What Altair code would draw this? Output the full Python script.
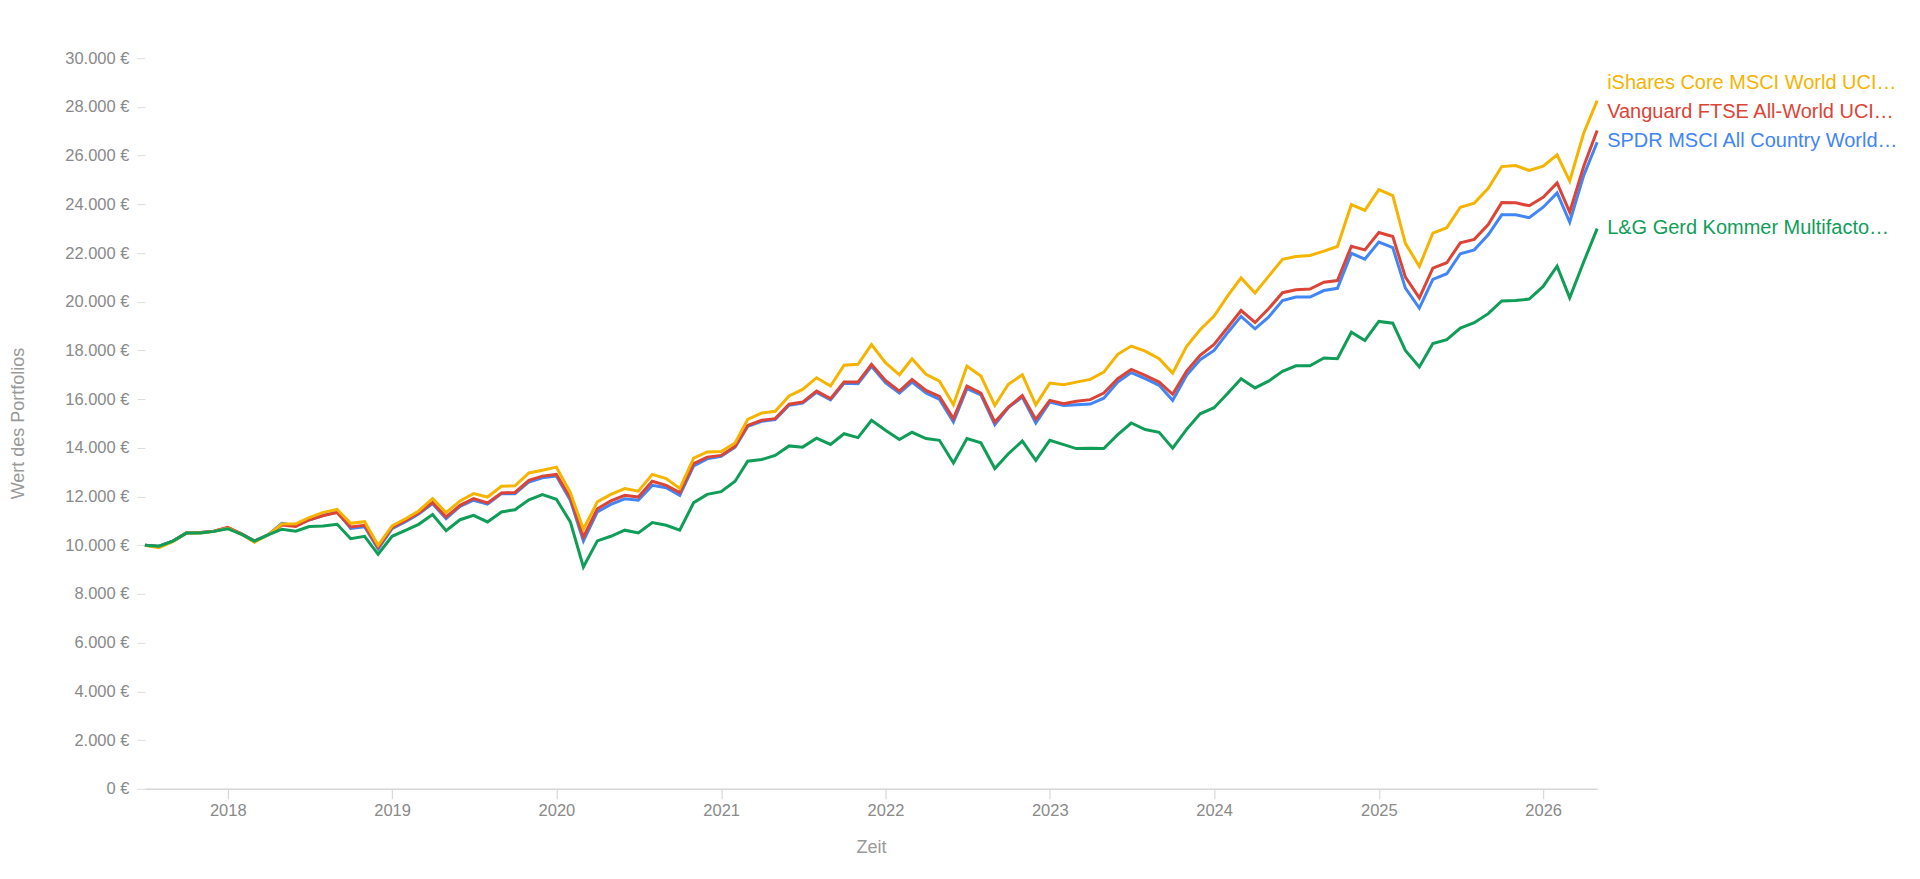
import altair as alt
import pandas as pd

# ---------------- data ----------------
START_DATE = "2017-07-01"
N_MONTHS = 107

SERIES = [
    "SPDR MSCI All Country World Investable Market UCITS ETF",
    "Vanguard FTSE All-World UCITS ETF",
    "iShares Core MSCI World UCITS ETF",
    "L&G Gerd Kommer Multifactor Equity UCITS ETF",
]
LABELS = [
    "SPDR MSCI All Country World…",
    "Vanguard FTSE All-World UCI…",
    "iShares Core MSCI World UCI…",
    "L&G Gerd Kommer Multifacto…",
]
COLORS = ["#4285F4", "#DB4437", "#F4B400", "#0F9D58"]

spdr = [10000, 9960, 10170, 10500, 10520, 10580, 10720, 10460, 10180, 10440,
        10900, 10800, 11040, 11220, 11370, 10690, 10760, 9850, 10680, 10980,
        11280, 11710, 11090, 11600, 11850, 11690, 12120, 12120, 12600, 12770,
        12840, 11850, 10180, 11370, 11680, 11910, 11850, 12460, 12360, 12050,
        13260, 13550, 13650, 14030, 14880, 15090, 15160, 15750, 15840, 16280,
        15970, 16650, 16630, 17350, 16680, 16250, 16700, 16250, 15990, 15060,
        16430, 16180, 14950, 15650, 16090, 15020, 15880, 15740, 15770, 15800,
        16040, 16700, 17090, 16840, 16570, 15950, 16980, 17620, 18000, 18750,
        19400, 18890, 19370, 20050, 20190, 20190, 20460, 20550, 21990, 21750,
        22450, 22220, 20560, 19740, 20920, 21150, 21970, 22130, 22750, 23570,
        23570, 23450, 23880, 24470, 23270, 25180, 26550]

vanguard = [10000, 9950, 10170, 10500, 10520, 10580, 10740, 10470, 10170, 10430,
            10830, 10770, 11050, 11220, 11340, 10750, 10820, 9910, 10730, 11030,
            11330, 11760, 11160, 11640, 11920, 11740, 12150, 12170, 12670, 12840,
            12910, 11960, 10340, 11500, 11820, 12050, 11980, 12630, 12460, 12160,
            13350, 13620, 13690, 14070, 14920, 15130, 15200, 15790, 15880, 16330,
            16020, 16700, 16700, 17430, 16770, 16330, 16810, 16360, 16110, 15200,
            16540, 16250, 15060, 15670, 16150, 15170, 15950, 15810, 15910, 15980,
            16250, 16840, 17220, 16980, 16700, 16200, 17150, 17800, 18250, 18960,
            19640, 19150, 19710, 20370, 20490, 20520, 20800, 20870, 22280, 22130,
            22840, 22680, 21010, 20160, 21380, 21600, 22420, 22560, 23170, 24070,
            24060, 23940, 24290, 24880, 23680, 25550, 27030]

ishares = [10000, 9900, 10150, 10500, 10500, 10570, 10700, 10450, 10120, 10430,
           10870, 10880, 11140, 11350, 11470, 10900, 10970, 10000, 10800, 11100,
           11410, 11920, 11340, 11820, 12120, 11980, 12420, 12440, 12970, 13080,
           13210, 12160, 10660, 11780, 12090, 12330, 12220, 12910, 12740, 12330,
           13580, 13830, 13850, 14200, 15170, 15430, 15500, 16130, 16400, 16880,
           16540, 17390, 17430, 18240, 17500, 17000, 17660, 17020, 16740, 15770,
           17360, 16950, 15740, 16610, 17000, 15770, 16660, 16590, 16700, 16810,
           17110, 17840, 18180, 17970, 17660, 17070, 18170, 18850, 19410, 20260,
           20980, 20360, 21040, 21740, 21860, 21900, 22080, 22270, 23990, 23750,
           24600, 24360, 22400, 21450, 22820, 23040, 23880, 24050, 24660, 25550,
           25590, 25390, 25570, 26030, 24950, 26920, 28260]

lg = [10000, 9960, 10170, 10500, 10500, 10570, 10680, 10450, 10170, 10430,
      10660, 10580, 10770, 10790, 10860, 10270, 10370, 9630, 10370, 10620,
      10860, 11260, 10600, 11050, 11230, 10960, 11370, 11460, 11870, 12080,
      11890, 10960, 9110, 10180, 10370, 10620, 10510, 10930, 10820, 10620,
      11750, 12090, 12200, 12630, 13450, 13520, 13690, 14080, 14030, 14400,
      14140, 14580, 14420, 15130, 14720, 14340, 14640, 14380, 14310, 13380,
      14380, 14210, 13150, 13760, 14280, 13490, 14310, 14130, 13970, 13980,
      13970, 14540, 15020, 14750, 14640, 13990, 14760, 15400, 15650, 16250,
      16840, 16460, 16740, 17140, 17370, 17370, 17690, 17660, 18750, 18410,
      19190, 19120, 18000, 17320, 18280, 18440, 18920, 19140, 19510, 20030,
      20050, 20110, 20630, 21460, 20160, 21630, 23000]

Y_TICKS = [0, 2000, 4000, 6000, 8000, 10000, 12000, 14000, 16000, 18000,
           20000, 22000, 24000, 26000, 28000, 30000]
Y_MAX = 30000
LABEL_GAP = 1200  # minimum spacing of end labels, in euros

# ---------------- build tables ----------------
dates = pd.date_range(START_DATE, periods=N_MONTHS, freq="MS")
values = [spdr, vanguard, ishares, lg]

frames = []
for name, vals in zip(SERIES, values):
    frames.append(pd.DataFrame({"date": dates, "value": vals, "series": name}))
df = pd.concat(frames, ignore_index=True)

# end labels, pushed apart so they don't overlap
ends = pd.DataFrame({
    "series": SERIES,
    "label": LABELS,
    "value": [v[-1] for v in values],
    "date": dates[-1],
})
ends = ends.sort_values("value").reset_index(drop=True)
pos = []
prev = None
for v in ends["value"]:
    p = v if prev is None else max(v, prev + LABEL_GAP)
    pos.append(p)
    prev = p
ends["label_y"] = pos

color = alt.Color("series:N", scale=alt.Scale(domain=SERIES, range=COLORS), legend=None)

x_enc = alt.X(
    "date:T",
    title="Zeit",
    scale=alt.Scale(nice=False),
    axis=alt.Axis(
        format="%Y",
        tickCount="year",
        grid=False,
        labelFontSize=16.5,
        labelColor="#8a8a8a",
        labelPadding=4,
        tickSize=10,
        tickColor="#d0d0d0",
        domainColor="#d6d6d6",
        domainWidth=1.5,
        titleFontSize=18,
        titleFontWeight="normal",
        titleColor="#999999",
        titleY=59,
        titleBaseline="middle",
    ),
)
y_enc = alt.Y(
    "value:Q",
    title="Wert des Portfolios",
    scale=alt.Scale(domain=[0, Y_MAX], nice=False),
    axis=alt.Axis(
        values=Y_TICKS,
        labelExpr="replace(format(datum.value, ',.0f'), ',', '.') + ' €'",
        domain=False,
        grid=False,
        labelFontSize=16.5,
        labelColor="#8a8a8a",
        labelPadding=8,
        tickSize=8,
        tickColor="#dddddd",
        titleFontSize=18,
        titleFontWeight="normal",
        titleColor="#999999",
        titleAngle=270,
        titleAlign="center",
        titleBaseline="middle",
        titleX=-126,
        titleY=365,
    ),
)

layers = []
for name in SERIES:
    layers.append(
        alt.Chart(df)
        .transform_filter(alt.datum.series == name)
        .mark_line(strokeWidth=3)
        .encode(x=x_enc, y=y_enc, color=color)
    )

labels = (
    alt.Chart(ends)
    .mark_text(align="left", baseline="middle", dx=10, dy=-1, fontSize=20, font="Liberation Sans")
    .encode(
        x=alt.X("date:T"),
        y=alt.Y("label_y:Q"),
        text="label:N",
        color=color,
    )
)

chart = (
    alt.layer(*layers, labels)
    .properties(
        width=1453,
        height=731,
        padding={"left": 137, "top": 50, "right": 315, "bottom": 70},
        autosize=alt.AutoSizeParams(type="none"),
    )
    .configure(font="Liberation Sans")
    .configure_view(stroke=None)
)

chart.save("out.html", embed_options={"renderer": "svg", "actions": False})
